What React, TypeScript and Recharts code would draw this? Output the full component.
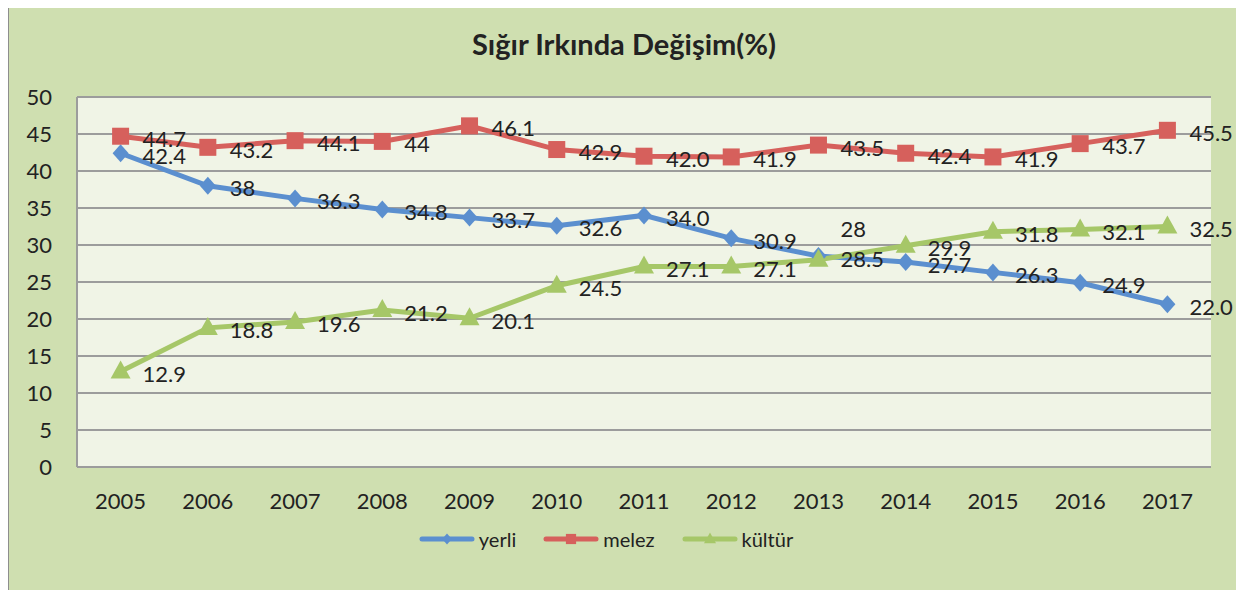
import React from 'react';
import { LineChart, Line, XAxis, YAxis, CartesianGrid, Legend, LabelList } from 'recharts';

const years = ['2005', '2006', '2007', '2008', '2009', '2010', '2011', '2012', '2013', '2014', '2015', '2016', '2017'];
const yerli = [42.4, 38, 36.3, 34.8, 33.7, 32.6, 34.0, 30.9, 28.5, 27.7, 26.3, 24.9, 22.0];
const melez = [44.7, 43.2, 44.1, 44, 46.1, 42.9, 42.0, 41.9, 43.5, 42.4, 41.9, 43.7, 45.5];
const kultur = [12.9, 18.8, 19.6, 21.2, 20.1, 24.5, 27.1, 27.1, 28, 29.9, 31.8, 32.1, 32.5];
const yerliLabels = ['42.4', '38', '36.3', '34.8', '33.7', '32.6', '34.0', '30.9', '28.5', '27.7', '26.3', '24.9', '22.0'];
const melezLabels = ['44.7', '43.2', '44.1', '44', '46.1', '42.9', '42.0', '41.9', '43.5', '42.4', '41.9', '43.7', '45.5'];
const kulturLabels = ['12.9', '18.8', '19.6', '21.2', '20.1', '24.5', '27.1', '27.1', '28', '29.9', '31.8', '32.1', '32.5'];
const yTicks = [0, 5, 10, 15, 20, 25, 30, 35, 40, 45, 50];

const data = years.map((y, i) => ({ year: y, yerli: yerli[i], melez: melez[i], kultur: kultur[i] }));

const BLUE = '#5B8FCF';
const RED = '#D6605C';
const GREEN = '#A6C768';
const FONT = 'Lato, "Open Sans", sans-serif';
const TEXT = '#222222';

const Marker = ({ type, cx, cy, fill, s = 1 }: any) => {
  if (cx == null || cy == null) return null;
  if (type === 'diamond') {
    return <polygon points={`${cx},${cy - 9 * s} ${cx + 8 * s},${cy} ${cx},${cy + 9 * s} ${cx - 8 * s},${cy}`} fill={fill} />;
  }
  if (type === 'square') {
    return <rect x={cx - 8.5 * s} y={cy - 8.5 * s} width={17 * s} height={17 * s} fill={fill} />;
  }
  return <polygon points={`${cx},${cy - 11 * s} ${cx + 10 * s},${cy + 7 * s} ${cx - 10 * s},${cy + 7 * s}`} fill={fill} />;
};

const makeDot = (type: string, fill: string) => (p: any) => (
  <Marker key={`${type}-${p.index}`} type={type} cx={p.cx} cy={p.cy} fill={fill} />
);

const makeLabel = (labels: string[], series: string) => (p: any) => {
  const { x, y, index } = p;
  let dy = 2;
  if (series === 'kultur' && index === 8) dy = -31;
  return (
    <text key={`${series}-l-${index}`} x={x + 22} y={y + dy} fontSize={22} fontFamily={FONT} fill={TEXT} textAnchor="start" dominantBaseline="central">
      {labels[index]}
    </text>
  );
};

const seriesMeta = [
  { name: 'yerli', color: BLUE, type: 'diamond' },
  { name: 'melez', color: RED, type: 'square' },
  { name: 'kültür', color: GREEN, type: 'triangle' },
];

const renderLegend = () => (
  <div style={{ display: 'flex', justifyContent: 'center', alignItems: 'center', height: 30, transform: 'translateX(-4px)', fontFamily: FONT, fontSize: 20, color: TEXT }}>
    {seriesMeta.map((s, i) => (
      <div key={s.name} style={{ display: 'flex', alignItems: 'center', marginRight: i < seriesMeta.length - 1 ? 27 : 0 }}>
        <svg width={56} height={20}>
          <line x1={3} x2={53} y1={10} y2={10} stroke={s.color} strokeWidth={5} strokeLinecap="round" />
          <Marker type={s.type} cx={28} cy={10} fill={s.color} s={0.6} />
        </svg>
        <span style={{ marginLeft: 4 }}>{s.name}</span>
      </div>
    ))}
  </div>
);

export default function App() {
  return (
    <div style={{ position: 'relative', width: 1230, height: 583, marginTop: -3, marginLeft: -1, background: '#CFDFB0', border: '2px solid #8E8E8E' }}>
      <div style={{ position: 'absolute', left: 0, right: 0, top: 19, textAlign: 'center', fontFamily: FONT, fontWeight: 700, fontSize: 29, lineHeight: '36px', color: TEXT }}>
        Sığır Irkında Değişim(%)
      </div>
      <LineChart width={1230} height={583} data={data} margin={{ top: 90, right: 28, left: 0, bottom: 36 }}>
        <CartesianGrid vertical={false} stroke="#9C9C9C" strokeWidth={2} fill="#F0F4E6" />
        <XAxis
          dataKey="year"
          height={57}
          padding={{ left: 43.6, right: 43.6 }}
          tickLine={false}
          tickSize={0}
          tickMargin={26}
          axisLine={{ stroke: '#9C9C9C', strokeWidth: 2 }}
          tick={{ fontSize: 22, fontFamily: FONT, fill: TEXT }}
          interval={0}
        />
        <YAxis
          width={68}
          domain={[0, 50]}
          ticks={yTicks}
          tickLine={false}
          tickSize={0}
          tickMargin={25}
          axisLine={{ stroke: '#9C9C9C', strokeWidth: 2 }}
          tick={{ fontSize: 22, fontFamily: FONT, fill: TEXT }}
          interval={0}
        />
        <Legend verticalAlign="bottom" height={30} content={renderLegend} />
        <Line type="linear" dataKey="yerli" name="yerli" stroke={BLUE} strokeWidth={5} dot={makeDot('diamond', BLUE)} activeDot={false} isAnimationActive={false}>
          <LabelList dataKey="yerli" content={makeLabel(yerliLabels, 'yerli')} />
        </Line>
        <Line type="linear" dataKey="melez" name="melez" stroke={RED} strokeWidth={5} dot={makeDot('square', RED)} activeDot={false} isAnimationActive={false}>
          <LabelList dataKey="melez" content={makeLabel(melezLabels, 'melez')} />
        </Line>
        <Line type="linear" dataKey="kultur" name="kültür" stroke={GREEN} strokeWidth={5} dot={makeDot('triangle', GREEN)} activeDot={false} isAnimationActive={false}>
          <LabelList dataKey="kultur" content={makeLabel(kulturLabels, 'kultur')} />
        </Line>
      </LineChart>
    </div>
  );
}
